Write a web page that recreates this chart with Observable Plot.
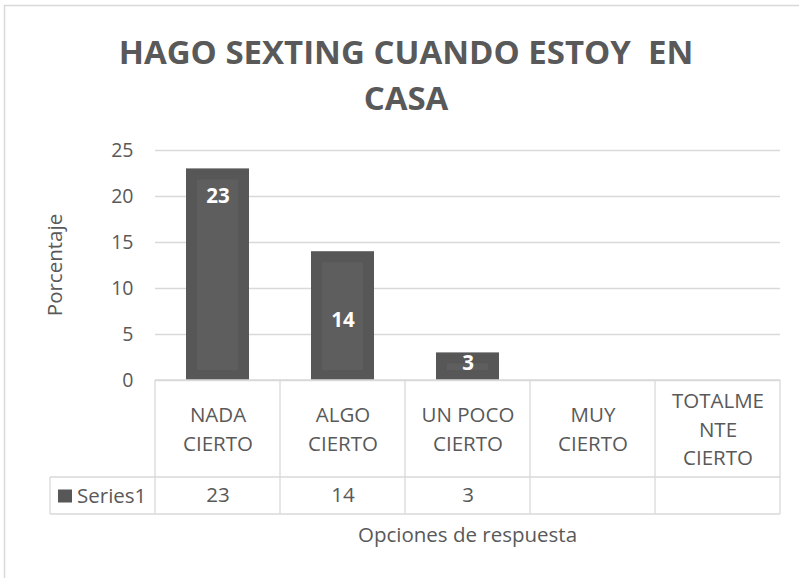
<!DOCTYPE html>
<html>
<head>
<meta charset="utf-8">
<script src="https://cdn.jsdelivr.net/npm/d3@7"></script>
<script src="https://cdn.jsdelivr.net/npm/@observablehq/plot@0.6"></script>
<style>
  html, body { margin: 0; padding: 0; background: #fff; }
  #chart { width: 799px; height: 578px; overflow: hidden; }
  svg text { font-family: "Open Sans", sans-serif; }
</style>
</head>
<body>
<div id="chart"></div>
<script>
// ---- data ----
const categories = ["NADA CIERTO", "ALGO CIERTO", "UN POCO CIERTO", "MUY CIERTO", "TOTALMENTE CIERTO"];
const headerLabels = ["NADA\nCIERTO", "ALGO\nCIERTO", "UN POCO\nCIERTO", "MUY\nCIERTO", "TOTALME\nNTE\nCIERTO"];
const values = [23, 14, 3, null, null];
const labelAt = [20, 6.5, 1.85, null, null];   // where the data labels sit (data units)
const yTicks = [0, 5, 10, 15, 20, 25];
const titleLines = ["HAGO SEXTING CUANDO ESTOY  EN", "CASA"];
const yLabel = "Porcentaje";
const xLabel = "Opciones de respuesta";
const seriesName = "Series1";

const data = categories.map((c, i) => ({cat: c, header: headerLabels[i], value: values[i], labelAt: labelAt[i]}));
const withValues = data.filter(d => d.value != null);

const textColor = "#595959";
const gridColor = "#d9d9d9";
const barOuter = "#575757";
const barInner = "#5e5e5e";
const fs = 20.5;

const plot = Plot.plot({
  width: 799,
  height: 578,
  marginTop: 150,
  marginBottom: 198,
  marginLeft: 155,
  marginRight: 19,
  style: {fontFamily: "Open Sans, sans-serif", fontSize: fs + "px", color: textColor, background: "white", overflow: "visible"},
  x: {domain: categories, paddingInner: 0.5, paddingOuter: 0.25, align: 0.5, axis: null},
  y: {domain: [0, 25], axis: null},
  marks: [
    Plot.gridY(yTicks, {stroke: gridColor, strokeOpacity: 1, strokeWidth: 1.3}),
    Plot.axisY(yTicks, {tickSize: 0, tickPadding: 22, fontSize: 19.5, fill: textColor, label: null}),
    Plot.barY(withValues, {x: "cat", y: "value", fill: barOuter}),
    Plot.barY(withValues, {x: "cat", y: "value", fill: barInner, insetLeft: 11, insetRight: 11, insetTop: 11, insetBottom: 10}),
    Plot.text(withValues, {x: "cat", y: "labelAt", text: d => String(d.value), fill: "white", fontWeight: "bold", fontSize: fs}),
    // table header row (category names)
    Plot.text(data, {x: "cat", text: "header", frameAnchor: "bottom", dy: 47, lineAnchor: "middle", lineHeight: 1.4, fill: textColor, fontSize: fs}),
    // table value row
    Plot.text(withValues, {x: "cat", text: d => String(d.value), frameAnchor: "bottom", dy: 115, lineAnchor: "middle", fill: textColor, fontSize: fs})
  ]
});

document.getElementById("chart").appendChild(plot);

const svg = d3.select(plot);
const xs = plot.scale("x");
const ys = plot.scale("y");
const x0 = xs.range[0], x1 = xs.range[1];
const step = xs.step;
const yBase = ys.apply(0);
const rowTop = yBase + 97;
const rowBottom = yBase + 134;
const tableLeft = 50;

const g = svg.append("g").attr("stroke", gridColor).attr("stroke-width", 1.3).attr("fill", "none");
// horizontal table lines
g.append("line").attr("x1", x0).attr("x2", x1).attr("y1", yBase).attr("y2", yBase);
g.append("line").attr("x1", tableLeft).attr("x2", x1).attr("y1", rowTop).attr("y2", rowTop);
g.append("line").attr("x1", tableLeft).attr("x2", x1).attr("y1", rowBottom).attr("y2", rowBottom);
// vertical lines
for (let i = 0; i <= categories.length; i++) {
  const xx = x0 + i * step;
  g.append("line").attr("x1", xx).attr("x2", xx).attr("y1", yBase).attr("y2", rowBottom);
}
g.append("line").attr("x1", tableLeft).attr("x2", tableLeft).attr("y1", rowTop).attr("y2", rowBottom);

// legend key in table
svg.append("rect").attr("x", 58).attr("y", (rowTop + rowBottom) / 2 - 6).attr("width", 14).attr("height", 13).attr("fill", barOuter);
svg.append("text").attr("x", 77).attr("y", (rowTop + rowBottom) / 2).attr("dy", "0.35em")
  .attr("text-anchor", "start").attr("fill", textColor).attr("font-size", fs).text(seriesName);

// axis titles
svg.append("text").attr("transform", `translate(55,${(ys.apply(0) + ys.apply(25)) / 2}) rotate(-90)`)
  .attr("text-anchor", "middle").attr("dy", "0.35em").attr("fill", textColor).attr("font-size", fs).text(yLabel);
svg.append("text").attr("x", (x0 + x1) / 2).attr("y", 535).attr("dy", "0.35em")
  .attr("text-anchor", "middle").attr("fill", textColor).attr("font-size", fs).text(xLabel);

// chart title
titleLines.forEach((t, i) => {
  svg.append("text").attr("x", 406).attr("y", 52 + i * 46).attr("dy", "0.35em")
    .attr("text-anchor", "middle").attr("fill", textColor).attr("font-size", 33).attr("font-weight", "bold")
    .style("white-space", "pre").text(t);
});

// chart border
svg.append("rect").attr("x", 4.5).attr("y", 5.5).attr("width", 820).attr("height", 620)
  .attr("fill", "none").attr("stroke", gridColor).attr("stroke-width", 1.5);
</script>
</body>
</html>
